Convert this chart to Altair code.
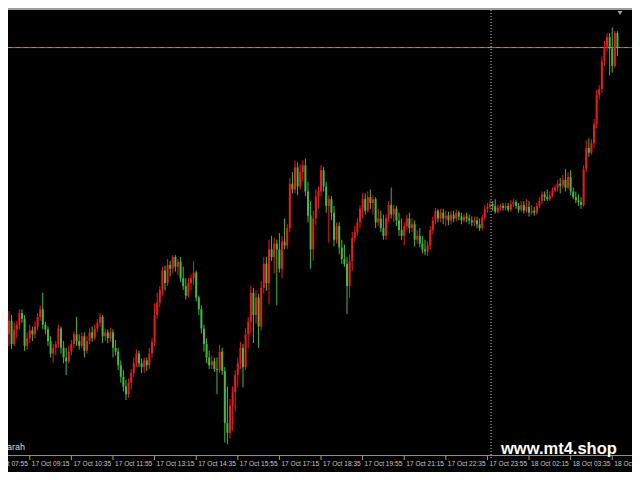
import altair as alt
import pandas as pd

# ---- OHLC prices (points), one per 5-minute bar ----
open_p = [
    125,139,115,130,135,147,141,113,121,129,
    125,133,143,151,135,130,118,105,111,115,
    131,111,101,97,107,115,125,118,113,123,
    108,118,127,121,131,137,143,123,127,121,
    127,111,107,93,81,71,63,75,85,95,
    105,95,91,98,93,105,117,145,158,171,
    191,178,197,193,205,195,200,183,175,165,
    178,183,189,163,151,131,115,101,93,97,
    89,88,107,87,33,23,51,65,83,95,
    111,91,125,138,168,145,163,133,173,198,
    178,213,205,219,213,193,221,217,235,281,
    275,298,278,293,300,273,248,213,245,268,
    273,295,278,258,265,251,223,237,215,203,
    198,175,201,225,231,241,255,265,253,267,
    261,265,241,245,235,227,245,259,249,255,
    243,233,227,237,245,235,239,223,227,219,
    213,211,217,233,243,253,245,251,245,248,
    243,249,245,251,247,243,247,245,243,241,
    243,239,235,246,255,257,260,258,252,256,
    258,256,258,254,260,262,258,254,259,253,
    257,251,253,251,258,263,270,267,265,269,
    274,277,281,279,285,277,288,273,267,264,
    262,259,296,318,313,323,343,373,379,408,
    423,433,421,403,437,
]
high_p = [
    149,145,137,139,151,151,145,127,135,133,
    138,147,155,168,138,133,123,115,118,135,
    133,118,111,113,119,128,143,125,127,127,
    123,131,133,135,141,147,145,131,130,132,
    130,119,111,98,88,78,79,89,101,109,
    108,100,101,101,111,121,157,168,175,195,
    196,203,201,207,207,203,205,195,183,183,
    187,201,191,165,155,135,121,108,103,101,
    101,114,111,91,71,58,71,88,101,117,
    115,131,143,175,173,171,167,180,205,205,
    223,227,225,223,230,227,245,239,287,293,
    305,303,301,305,307,283,263,253,275,278,
    300,298,283,269,268,258,241,241,223,218,
    205,208,231,237,245,259,271,271,273,275,
    269,267,255,253,249,249,263,277,259,258,
    251,245,241,249,251,245,243,233,235,227,
    223,221,237,247,256,255,255,255,253,252,
    253,253,254,253,251,250,251,249,247,247,
    247,245,249,259,261,264,263,265,259,260,
    261,261,261,264,265,264,261,263,263,265,
    263,259,257,261,267,273,273,275,273,277,
    280,285,287,290,296,293,295,277,273,270,
    267,300,326,328,327,348,378,383,413,429,
    437,437,443,439,439,
]
low_p = [
    113,110,113,121,130,137,108,109,116,118,
    121,129,139,130,125,113,101,96,103,111,
    105,95,83,95,103,111,113,109,111,101,
    105,115,117,119,127,133,116,118,116,117,
    101,103,88,75,66,57,59,68,81,91,
    91,85,85,87,89,101,113,141,153,165,
    170,175,185,188,190,186,179,171,161,163,
    171,176,159,145,126,107,95,89,89,86,
    63,85,83,13,11,17,25,45,70,89,
    70,88,111,126,116,136,111,129,167,170,
    156,201,188,155,189,183,213,213,231,271,
    271,269,275,283,268,241,193,201,238,255,
    268,273,251,220,243,216,219,208,198,195,
    146,163,191,221,227,235,245,249,251,255,
    249,235,237,231,223,223,241,245,241,237,
    227,223,217,233,230,231,216,219,215,209,
    207,206,213,229,239,241,241,239,237,238,
    239,241,242,243,239,241,241,239,237,237,
    235,232,233,243,251,255,253,250,250,253,
    253,253,252,252,257,255,251,252,250,251,
    247,249,248,249,256,260,263,263,263,267,
    272,273,271,276,273,275,269,265,261,258,
    255,257,293,309,311,318,338,368,375,403,
    418,393,396,401,413,
]
close_p = [
    139,115,130,135,147,141,113,121,129,125,
    133,143,151,135,130,118,105,111,115,131,
    111,101,97,107,115,125,118,113,123,108,
    118,127,121,131,137,143,123,127,121,127,
    111,107,93,81,71,63,75,85,95,105,
    95,91,98,93,105,117,145,158,171,191,
    178,197,193,205,195,200,183,175,165,178,
    183,189,163,151,131,115,101,93,97,89,
    88,107,87,33,23,51,65,83,95,111,
    91,125,138,168,145,163,133,173,198,178,
    213,205,219,213,193,221,217,235,281,275,
    298,278,293,300,273,248,213,245,268,273,
    295,278,258,265,251,223,237,215,203,198,
    175,201,225,231,241,255,265,253,267,261,
    265,241,245,235,227,245,259,249,255,243,
    233,227,237,245,235,239,223,227,219,213,
    211,217,233,243,253,245,251,245,248,243,
    249,245,251,247,243,247,245,243,241,243,
    239,235,246,255,257,260,258,252,256,258,
    256,258,254,260,262,258,254,259,253,257,
    251,253,251,258,263,270,267,265,269,274,
    277,281,279,285,277,288,273,267,264,262,
    259,296,318,313,323,343,373,379,408,423,
    433,421,403,437,422,
]

# ---- time axis (bar index of each labelled bar) ----
tick_bars = [-8, 8, 24, 40, 56, 72, 88, 104, 120, 136, 152, 168, 184, 200, 216, 232]
tick_labels = [
    "17 Oct 07:55", "17 Oct 09:15", "17 Oct 10:35", "17 Oct 11:55",
    "17 Oct 13:15", "17 Oct 14:35", "17 Oct 15:55", "17 Oct 17:15",
    "17 Oct 18:35", "17 Oct 19:55", "17 Oct 21:15", "17 Oct 22:35",
    "17 Oct 23:55", "18 Oct 02:15", "18 Oct 03:35", "18 Oct 04:55",
]
bid_price = [422]
separator_bar = [185.4]
watermark = "www.mt4.shop"
indicator_label = "arah"

W, H = 624, 447
X_DOMAIN = [-0.375, 239.6]
Y_DOMAIN = [0, 463]
RED = "#ea1b1e"
GREEN = "#44b844"

n = len(close_p)
df = pd.DataFrame({
    "bar": list(range(n)),
    "open": open_p[:n], "high": high_p[:n], "low": low_p[:n], "close": close_p,
})
df["dir"] = ["up" if c >= o else "down" for o, c in zip(df["open"], df["close"])]

xs = alt.Scale(domain=X_DOMAIN, nice=False, zero=False)
ys = alt.Scale(domain=Y_DOMAIN, nice=False, zero=False)
col = alt.Color("dir:N", scale=alt.Scale(domain=["up", "down"], range=[RED, GREEN]), legend=None)
X = alt.X("bar:Q", scale=xs, axis=None)

one = pd.DataFrame({"k": [0]})

top_border = alt.Chart(one).mark_rule(color="#9c9c9c", strokeWidth=2).encode(
    x=alt.value(0), x2=alt.value(W), y=alt.value(1))
shift_mark = alt.Chart(one).mark_point(shape="triangle-down", filled=True, color="#a8a8a8",
                                       size=22, opacity=1).encode(x=alt.value(612), y=alt.value(5))

sep = alt.Chart(pd.DataFrame({"bar": separator_bar})).mark_rule(
    color="#cfcfcf", strokeDash=[1, 2], strokeWidth=1).encode(
    x=X, y=alt.value(2), y2=alt.value(450))

bid_df = pd.DataFrame({"price": bid_price})
bid1 = alt.Chart(bid_df).mark_rule(color="#9a9a9a", strokeDash=[4, 4], strokeWidth=1).encode(
    y=alt.Y("price:Q", scale=ys, axis=None), x=alt.value(0), x2=alt.value(W))
bid2 = alt.Chart(bid_df).mark_rule(color="#b06060", strokeDash=[4, 4], strokeDashOffset=4,
                                   strokeWidth=1).encode(
    y=alt.Y("price:Q", scale=ys, axis=None), x=alt.value(0), x2=alt.value(W))

base = alt.Chart(df)
wicks = base.mark_rule(strokeWidth=1).encode(
    x=X, y=alt.Y("low:Q", scale=ys, axis=None), y2="high:Q", color=col)
bodies = base.mark_rule(strokeWidth=2).encode(
    x=X, y=alt.Y("open:Q", scale=ys, axis=None), y2="close:Q", color=col)

axis_line = alt.Chart(one).mark_rule(color="#8c8c8c", strokeWidth=1).encode(
    x=alt.value(0), x2=alt.value(W), y=alt.value(447.5))
ticks_df = pd.DataFrame({"bar": tick_bars, "label": tick_labels})
tick_marks = alt.Chart(ticks_df).mark_rule(color="#a0a0a0").encode(
    x=X, y=alt.value(448), y2=alt.value(452))
tick_text = alt.Chart(ticks_df).mark_text(
    align="left", baseline="middle", dx=2, fontSize=6.6, font="Liberation Sans",
    color="#c8c8c8").encode(x=X, y=alt.value(455.5), text="label:N")

ind_text = alt.Chart(one).mark_text(
    align="left", baseline="alphabetic", fontSize=9, font="Liberation Sans", color="#d8d8d8",
    text=indicator_label).encode(x=alt.value(-1), y=alt.value(442))

wm = alt.Chart(one).mark_text(
    align="left", baseline="alphabetic", fontSize=16.5, fontWeight="bold",
    font="Liberation Sans", color="#ffffff", text=watermark).encode(
    x=alt.value(493), y=alt.value(446))

chart = alt.layer(
    top_border, shift_mark, sep, bid1, bid2, wicks, bodies,
    axis_line, tick_marks, tick_text, ind_text, wm,
).properties(
    width=W, height=H, background="black",
    padding={"left": 0, "top": 0, "right": 0, "bottom": 17},
    autosize=alt.AutoSizeParams(type="none"),
).configure_view(stroke=None)

chart.save("out.html", embed_options={"renderer": "svg", "actions": False})
